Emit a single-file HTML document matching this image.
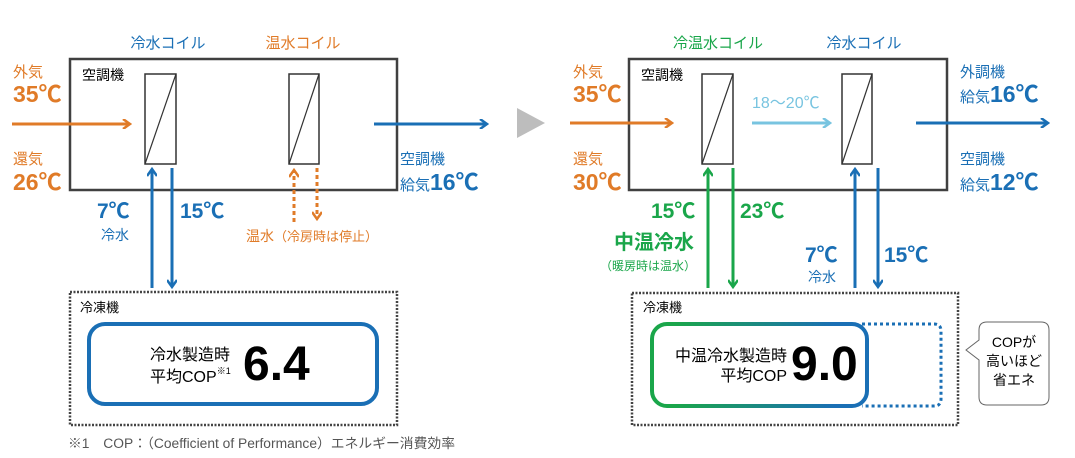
<!DOCTYPE html>
<html><head><meta charset="utf-8"><style>
html,body{margin:0;padding:0;background:#fff;}
svg{display:block;font-family:"Liberation Sans","Noto Sans CJK JP",sans-serif;}
</style></head><body>
<svg width="1075" height="458" viewBox="0 0 1075 458" xmlns="http://www.w3.org/2000/svg">
<defs>
<marker id="ao" markerWidth="10" markerHeight="10" refX="7" refY="5" orient="auto" markerUnits="userSpaceOnUse"><path d="M1,0 L8,5 L1,10" fill="none" stroke="#e07b28" stroke-width="2.5"/></marker>
<marker id="ab" markerWidth="10" markerHeight="10" refX="7" refY="5" orient="auto" markerUnits="userSpaceOnUse"><path d="M1,0 L8,5 L1,10" fill="none" stroke="#1a6fb5" stroke-width="2.5"/></marker>
<marker id="al" markerWidth="10" markerHeight="10" refX="7" refY="5" orient="auto" markerUnits="userSpaceOnUse"><path d="M1,0 L8,5 L1,10" fill="none" stroke="#78c4e0" stroke-width="2.5"/></marker>
<marker id="ag" markerWidth="10" markerHeight="10" refX="7" refY="5" orient="auto" markerUnits="userSpaceOnUse"><path d="M1,0 L8,5 L1,10" fill="none" stroke="#1aa64a" stroke-width="2.5"/></marker>
<linearGradient id="gr" gradientUnits="userSpaceOnUse" x1="652" x2="867" y1="0" y2="0"><stop offset="0.1" stop-color="#1aa64a"/><stop offset="0.85" stop-color="#1a6fb5"/></linearGradient>
</defs>

<!-- LEFT -->
<text x="168" y="48" font-size="15" fill="#1a6fb5" text-anchor="middle">冷水コイル</text>
<text x="303" y="48" font-size="15" fill="#e07b28" text-anchor="middle">温水コイル</text>
<rect x="70" y="59" width="327" height="131" fill="none" stroke="#404040" stroke-width="2.5"/>
<text x="82" y="80" font-size="14">空調機</text>
<rect x="145" y="74" width="31" height="90" fill="none" stroke="#333" stroke-width="1.5"/>
<line x1="145" y1="164" x2="176" y2="74" stroke="#333" stroke-width="1.2"/>
<rect x="289" y="74" width="30" height="90" fill="none" stroke="#333" stroke-width="1.5"/>
<line x1="289" y1="164" x2="319" y2="74" stroke="#333" stroke-width="1.2"/>
<text x="13" y="77" font-size="15" fill="#e07b28">外気</text>
<text x="13" y="102" font-size="23" font-weight="bold" fill="#e07b28">35℃</text>
<line x1="12" y1="124" x2="129" y2="124" stroke="#e07b28" stroke-width="3" marker-end="url(#ao)"/>
<text x="13" y="164" font-size="15" fill="#e07b28">還気</text>
<text x="13" y="190" font-size="23" font-weight="bold" fill="#e07b28">26℃</text>
<line x1="374" y1="124" x2="486" y2="124" stroke="#1a6fb5" stroke-width="3" marker-end="url(#ab)"/>
<text x="400" y="164" font-size="15" fill="#1a6fb5">空調機</text>
<text x="400" y="190" font-size="15" fill="#1a6fb5">給気<tspan font-size="23" font-weight="bold">16℃</tspan></text>
<line x1="152" y1="288" x2="152" y2="170" stroke="#1a6fb5" stroke-width="3" marker-end="url(#ab)"/>
<line x1="172" y1="168" x2="172" y2="286" stroke="#1a6fb5" stroke-width="3" marker-end="url(#ab)"/>
<text x="97" y="218" font-size="21" font-weight="bold" fill="#1a6fb5">7℃</text>
<text x="101" y="240" font-size="14" fill="#1a6fb5">冷水</text>
<text x="180" y="218" font-size="21" font-weight="bold" fill="#1a6fb5">15℃</text>
<line x1="294" y1="222" x2="294" y2="171" stroke="#e07b28" stroke-width="3" stroke-dasharray="4,3" marker-end="url(#ao)"/>
<line x1="317" y1="168" x2="317" y2="218" stroke="#e07b28" stroke-width="3" stroke-dasharray="4,3" marker-end="url(#ao)"/>
<text x="246" y="241" font-size="14" fill="#e07b28">温水<tspan font-size="13">（冷房時は停止）</tspan></text>
<rect x="70" y="292" width="327" height="133" fill="none" stroke="#444" stroke-width="2.5" stroke-dasharray="2,1.5"/>
<text x="80" y="312" font-size="13">冷凍機</text>
<rect x="89" y="324" width="288" height="80" rx="16" fill="none" stroke="#1a6fb5" stroke-width="4"/>
<text x="150" y="360" font-size="16">冷水製造時</text>
<text x="150" y="382" font-size="16">平均COP<tspan font-size="9" dy="-8">※1</tspan></text>
<text x="243" y="380" font-size="48" font-weight="bold" fill="#000">6.4</text>
<text x="68" y="448" font-size="13.5" fill="#555" textLength="387" lengthAdjust="spacingAndGlyphs">※1　COP：（Coefficient of Performance）エネルギー消費効率</text>

<polygon points="517,108 545,123 517,138" fill="#bdbdbd"/>

<!-- RIGHT -->
<text x="718" y="48" font-size="15" fill="#1aa64a" text-anchor="middle">冷温水コイル</text>
<text x="864" y="48" font-size="15" fill="#1a6fb5" text-anchor="middle">冷水コイル</text>
<rect x="629" y="59" width="318" height="131" fill="none" stroke="#404040" stroke-width="2.5"/>
<text x="641" y="80" font-size="14">空調機</text>
<rect x="702" y="74" width="31" height="90" fill="none" stroke="#333" stroke-width="1.5"/>
<line x1="702" y1="164" x2="733" y2="74" stroke="#333" stroke-width="1.2"/>
<rect x="842" y="74" width="30" height="90" fill="none" stroke="#333" stroke-width="1.5"/>
<line x1="842" y1="164" x2="872" y2="74" stroke="#333" stroke-width="1.2"/>
<text x="573" y="77" font-size="15" fill="#e07b28">外気</text>
<text x="573" y="102" font-size="23" font-weight="bold" fill="#e07b28">35℃</text>
<line x1="570" y1="123" x2="671" y2="123" stroke="#e07b28" stroke-width="3" marker-end="url(#ao)"/>
<text x="573" y="164" font-size="15" fill="#e07b28">還気</text>
<text x="573" y="190" font-size="23" font-weight="bold" fill="#e07b28">30℃</text>
<text x="752" y="108" font-size="16" fill="#78c4e0">18～20℃</text>
<line x1="752" y1="123" x2="829" y2="123" stroke="#78c4e0" stroke-width="3" marker-end="url(#al)"/>
<line x1="916" y1="123" x2="1047" y2="123" stroke="#1a6fb5" stroke-width="3" marker-end="url(#ab)"/>
<text x="960" y="77" font-size="15" fill="#1a6fb5">外調機</text>
<text x="960" y="102" font-size="15" fill="#1a6fb5">給気<tspan font-size="23" font-weight="bold">16℃</tspan></text>
<text x="960" y="164" font-size="15" fill="#1a6fb5">空調機</text>
<text x="960" y="190" font-size="15" fill="#1a6fb5">給気<tspan font-size="23" font-weight="bold">12℃</tspan></text>
<line x1="708" y1="288" x2="708" y2="170" stroke="#1aa64a" stroke-width="3" marker-end="url(#ag)"/>
<line x1="733" y1="168" x2="733" y2="286" stroke="#1aa64a" stroke-width="3" marker-end="url(#ag)"/>
<text x="651" y="218" font-size="21" font-weight="bold" fill="#1aa64a">15℃</text>
<text x="740" y="218" font-size="21" font-weight="bold" fill="#1aa64a">23℃</text>
<text x="614" y="249" font-size="20" font-weight="bold" fill="#1aa64a">中温冷水</text>
<text x="600" y="270" font-size="12" fill="#1aa64a">（暖房時は温水）</text>
<line x1="855" y1="288" x2="855" y2="170" stroke="#1a6fb5" stroke-width="3" marker-end="url(#ab)"/>
<line x1="878" y1="168" x2="878" y2="286" stroke="#1a6fb5" stroke-width="3" marker-end="url(#ab)"/>
<text x="805" y="262" font-size="21" font-weight="bold" fill="#1a6fb5">7℃</text>
<text x="808" y="282" font-size="14" fill="#1a6fb5">冷水</text>
<text x="884" y="262" font-size="21" font-weight="bold" fill="#1a6fb5">15℃</text>
<rect x="632" y="293" width="326" height="132" fill="none" stroke="#444" stroke-width="2.5" stroke-dasharray="2,1.5"/>
<text x="643" y="312" font-size="13">冷凍機</text>
<path d="M862,324 H934 Q941,324 941,331 V399 Q941,406 934,406 H862" fill="none" stroke="#1a6fb5" stroke-width="3" stroke-dasharray="3,3"/>
<rect x="652" y="324" width="215" height="82" rx="15" fill="none" stroke="url(#gr)" stroke-width="4"/>
<text x="787" y="361" font-size="16" text-anchor="end">中温冷水製造時</text>
<text x="787" y="381" font-size="16" text-anchor="end">平均COP</text>
<text x="791" y="380" font-size="48" font-weight="bold" fill="#000">9.0</text>
<path d="M987,322 H1041 Q1049,322 1049,330 V397 Q1049,405 1041,405 H987 Q979,405 979,397 V360 L966,350 L979,340 V330 Q979,322 987,322 Z" fill="#fff" stroke="#666" stroke-width="1"/>
<text x="1014" y="347" font-size="14" text-anchor="middle">COPが</text>
<text x="1014" y="366" font-size="14" text-anchor="middle">高いほど</text>
<text x="1014" y="385" font-size="14" text-anchor="middle">省エネ</text>
</svg>
</body></html>
